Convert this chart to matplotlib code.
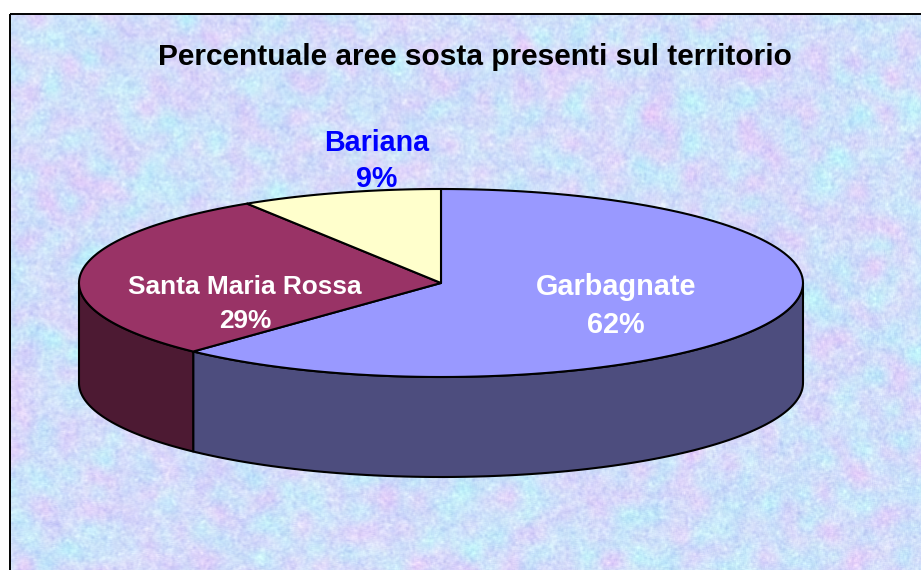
#!/usr/bin/python3
# Percentuale aree sosta - fake 3D pie
import numpy as np
import matplotlib
matplotlib.use('Agg')
import matplotlib.pyplot as plt
from matplotlib.patches import Polygon, Rectangle

plt.rcParams['font.family'] = ['Liberation Sans', 'DejaVu Sans']

title = 'Percentuale aree sosta presenti sul territorio'
names = ['Garbagnate', 'Santa Maria Rossa', 'Bariana']
shares = [62, 29, 9]
top_colors = ['#9999ff', '#993366', '#ffffcc']
side_colors = ['#4d4d7e', '#4d1a33', '#808066']

W, H = 921, 570
cx, cy, rx, ry, depth = 441, 283, 362, 94, 100


def blur(a, k):
    # cheap wrapped box blur
    f = np.zeros_like(a)
    for dy in range(-k, k + 1):
        for dx in range(-k, k + 1):
            f += np.roll(np.roll(a, dy, 0), dx, 1)
    return f / (2 * k + 1)**2


def texture():
    # paper background only, not data
    rng = np.random.default_rng(7)
    img = np.zeros((H, W, 3))
    base = np.array([0.82, 0.87, 0.98])
    fine = blur(rng.normal(size=(H, W)), 1)
    fine = fine / fine.std()
    mid = blur(rng.normal(size=(H, W)), 3)
    mid = mid / mid.std()
    pink = blur(blur(rng.normal(size=(H, W)), 8), 8)
    pink = pink / pink.std()
    cyan = blur(blur(rng.normal(size=(H, W)), 8), 8)
    cyan = cyan / cyan.std()
    img[..., 0] = base[0] + 0.012 * pink - 0.022 * cyan + 0.022 * fine + 0.012 * mid
    img[..., 1] = base[1] - 0.020 * pink + 0.012 * cyan + 0.022 * fine + 0.012 * mid
    img[..., 2] = base[2] + 0.010 * fine
    return np.clip(img, 0, 1)


def rim(a0, a1, n=120):
    # angles clockwise from 12 o'clock, degrees
    t = np.radians(np.linspace(a0, a1, n))
    return cx + rx * np.sin(t), cy - ry * np.cos(t)


fig = plt.figure(figsize=(W / 100, H / 100), dpi=100)
ax = fig.add_axes([0, 0, 1, 1])
ax.set_xlim(0, W)
ax.set_ylim(H, 0)
ax.axis('off')

im = ax.imshow(texture(), extent=(0, W, H, 0), aspect='auto', zorder=0, interpolation='bilinear')
frame = Rectangle((9.5, 13.5), W + 20, H + 20, fc='none', ec='black', lw=1.4, zorder=1)
ax.add_patch(frame)
im.set_clip_path(frame)

angles = np.cumsum([0] + shares) / sum(shares) * 360

# side walls, only the part of the rim that faces the viewer
for i in range(len(shares)):
    a0, a1 = max(angles[i], 90), min(angles[i + 1], 270)
    if a1 <= a0:
        continue
    x, y = rim(a0, a1)
    pts = np.r_[np.c_[x, y], np.c_[x[::-1], y[::-1] + depth]]
    ax.add_patch(Polygon(pts, fc=side_colors[i], ec='black', lw=1.5, joinstyle='round', zorder=2))

# top face
for i in range(len(shares)):
    x, y = rim(angles[i], angles[i + 1])
    pts = np.r_[[[cx, cy]], np.c_[x, y]]
    ax.add_patch(Polygon(pts, fc=top_colors[i], ec='black', lw=1.5, joinstyle='round', zorder=3))

ax.text(475, 57, title, ha='center', va='center', fontsize=21.5, fontweight='bold', color='black', zorder=5)

label_x = [616, 245, 377]
label_y = [306, 304, 161]
label_colors = ['white', 'white', '#0000ff']
label_sizes = [20.8, 18.9, 20.6]
label_space = [1.42, 1.48, 1.4]
for i in range(len(names)):
    ax.text(label_x[i], label_y[i], names[i] + '\n' + str(shares[i]) + '%', ha='center', va='center',
            fontsize=label_sizes[i], fontweight='bold', color=label_colors[i],
            linespacing=label_space[i], zorder=5)

fig.savefig('out.png', dpi=100)
